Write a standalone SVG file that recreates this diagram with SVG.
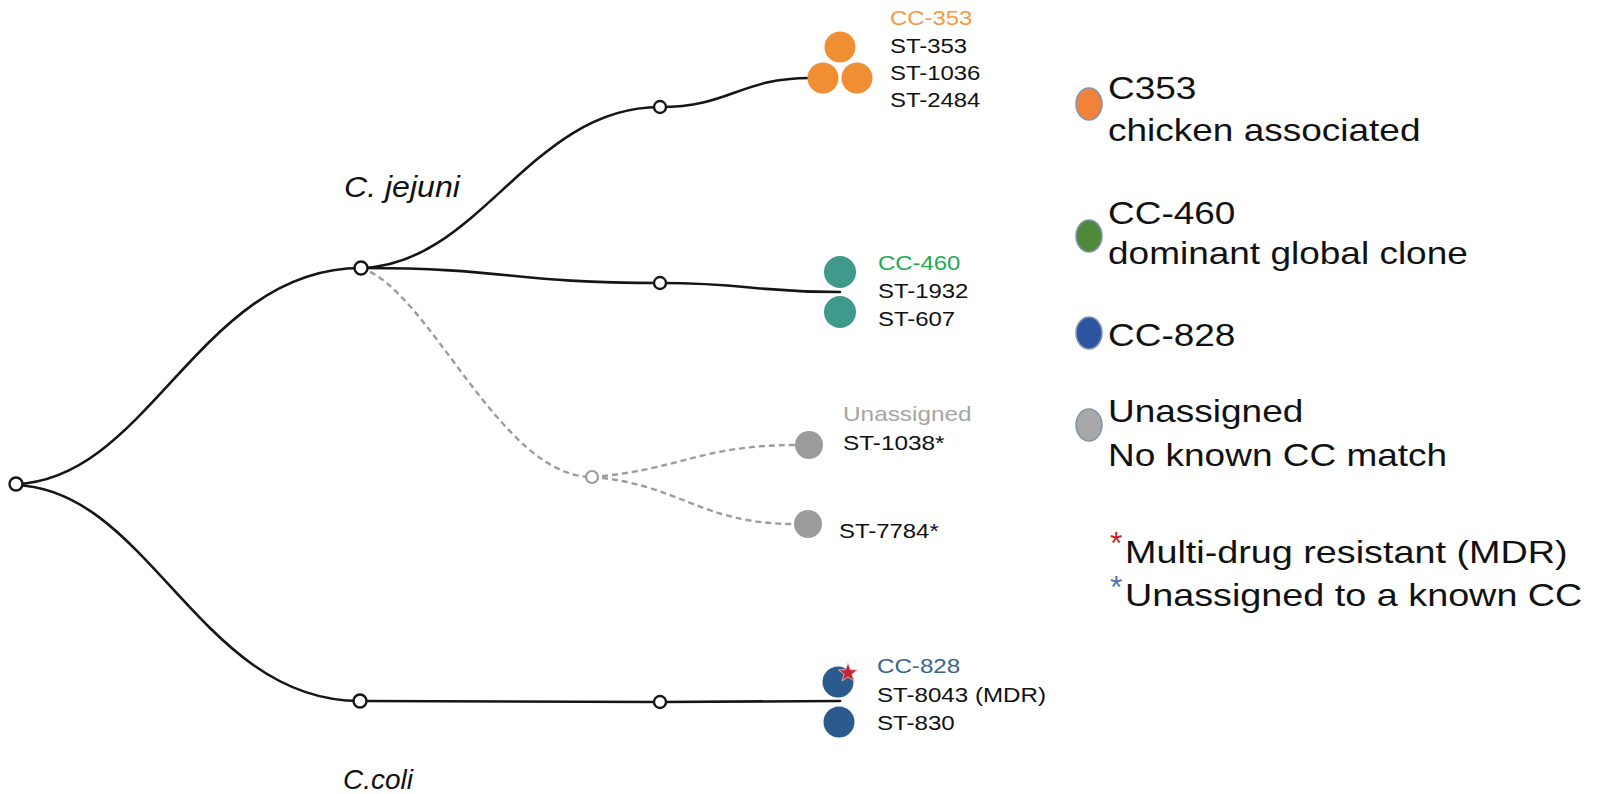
<svg xmlns="http://www.w3.org/2000/svg" width="1599" height="794" viewBox="0 0 1599 794">
<style>
.edge{fill:none;stroke:#151515;stroke-width:2.6;stroke-linecap:round}
.dash{fill:none;stroke:#9c9c9c;stroke-width:2.4;stroke-dasharray:6 4}
.node{fill:#fff;stroke:#151515;stroke-width:2.4}
.gnode{fill:#fff;stroke:#9c9c9c;stroke-width:2.2}
.lbl{font-family:"Liberation Sans",Arial,sans-serif;font-size:21px;fill:#111}
.sp{font-family:"Liberation Sans",Arial,sans-serif;font-size:30px;font-style:italic;fill:#111}
.leg{font-family:"Liberation Sans",Arial,sans-serif;font-size:32px;fill:#111}
.orange{fill:#EF8E33}
.teal{fill:#3F9A8C}
.grey{fill:#9B9B9B}
.blue{fill:#2B5B8C}
.legc{stroke:#8295B0;stroke-width:1.5}
</style>
<rect width="1599" height="794" fill="#fff"/>
<g id="connectors">
<path class="edge" d="M16,484 C150,479 200,268 361,268"/>
<path class="edge" d="M16,485 C150,490 200,701 360,701"/>
<path class="edge" d="M361,268 C480,265 530,107 660,107"/>
<path class="edge" d="M361,268 C510,268 510,283 660,283"/>
<path class="edge" d="M660,107 C730,107 740,78 810,78"/>
<path class="edge" d="M660,283 C750,283 750,292 840,292"/>
<path class="edge" d="M360,701 L660,702 L840,701"/>
<path class="dash" d="M361,268 C430,290 500,477 592,477"/>
<path class="dash" d="M592,477 C680,470 700,445 796,445"/>
<path class="dash" d="M592,477 C680,484 700,524 795,524"/>
</g>
<g id="root"><circle class="node" cx="16" cy="484" r="6.5"/></g>
<g id="jejuni">
<circle class="node" cx="361" cy="268" r="6.5"/>
<text class="sp" transform="translate(344,197) scale(1.07,1)">C. jejuni</text>
</g>
<g id="coli">
<circle class="node" cx="360" cy="701" r="6.5"/>
<text class="sp" x="343" y="789" style="font-size:28px">C.coli</text>
</g>
<g id="mid-353"><circle class="node" cx="660" cy="107" r="6"/></g>
<g id="mid-460"><circle class="node" cx="660" cy="283" r="6"/></g>
<g id="mid-unassigned"><circle class="gnode" cx="592" cy="477" r="6"/></g>
<g id="mid-828"><circle class="node" cx="660" cy="702" r="6"/></g>
<g id="cc353">
<circle class="orange" cx="840" cy="47" r="15.5"/>
<circle class="orange" cx="823" cy="78" r="15.5"/>
<circle class="orange" cx="857" cy="78" r="15.5"/>
<g transform="translate(890,0) scale(1.14,1)">
<text class="lbl" y="25" style="fill:#F29A45">CC-353</text>
<text class="lbl" y="53">ST-353</text>
<text class="lbl" y="80">ST-1036</text>
<text class="lbl" y="107">ST-2484</text>
</g>
</g>
<g id="cc460">
<circle class="teal" cx="840" cy="272" r="16"/>
<circle class="teal" cx="840" cy="312" r="16"/>
<g transform="translate(878,0) scale(1.14,1)">
<text class="lbl" y="270" style="fill:#22AA55">CC-460</text>
<text class="lbl" y="298">ST-1932</text>
<text class="lbl" y="326">ST-607</text>
</g>
</g>
<g id="unassigned">
<circle class="grey" cx="809" cy="445" r="14"/>
<circle class="grey" cx="808" cy="524" r="14"/>
<g transform="translate(843,0) scale(1.16,1)">
<text class="lbl" y="421" style="fill:#A5A5A5">Unassigned</text>
<text class="lbl" y="450">ST-1038*</text>
</g>
<g transform="translate(839,0) scale(1.14,1)">
<text class="lbl" y="538">ST-7784*</text>
</g>
</g>
<g id="cc828">
<circle class="blue" cx="838" cy="682" r="15.5"/>
<circle class="blue" cx="839" cy="722" r="15.5"/>
<polygon fill="#C0283A" stroke="#f3c0c0" stroke-width="0.8" points="848,663 850.4,669.7 857.5,669.9 851.9,674.2 853.9,681 848,677 842.1,681 844.1,674.2 838.5,669.9 845.6,669.7"/>
<g transform="translate(877,0) scale(1.15,1)">
<text class="lbl" y="673" style="fill:#3A6591">CC-828</text>
<text class="lbl" y="702">ST-8043 (MDR)</text>
<text class="lbl" y="730">ST-830</text>
</g>
</g>
<g id="legend">
<g id="leg-353">
<ellipse class="legc" cx="1089" cy="104" rx="13" ry="16" fill="#F0823A"/>
<g transform="translate(1108,0) scale(1.156,1)">
<text class="leg" y="99">C353</text>
<text class="leg" y="141">chicken associated</text>
</g>
</g>
<g id="leg-460">
<ellipse class="legc" cx="1089" cy="236" rx="13" ry="16" fill="#4F8A3A"/>
<g transform="translate(1108,0) scale(1.156,1)">
<text class="leg" y="224">CC-460</text>
<text class="leg" y="264">dominant global clone</text>
</g>
</g>
<g id="leg-828">
<ellipse class="legc" cx="1089" cy="333" rx="13" ry="16" fill="#2E56A0"/>
<g transform="translate(1108,0) scale(1.156,1)">
<text class="leg" y="346">CC-828</text>
</g>
</g>
<g id="leg-unassigned">
<ellipse class="legc" cx="1089" cy="425" rx="13" ry="16" fill="#A8A8A8"/>
<g transform="translate(1108,0) scale(1.156,1)">
<text class="leg" y="422">Unassigned</text>
<text class="leg" y="466">No known CC match</text>
</g>
</g>
<g id="leg-mdr">
<text class="leg" x="1110" y="554" style="fill:#D0202A">*</text>
<g transform="translate(1125,0) scale(1.18,1)">
<text class="leg" y="563">Multi-drug resistant (MDR)</text>
</g>
</g>
<g id="leg-star">
<text class="leg" x="1110" y="598" style="fill:#4A74B8">*</text>
<g transform="translate(1125,0) scale(1.18,1)">
<text class="leg" y="606">Unassigned to a known CC</text>
</g>
</g>
</g>
</svg>
